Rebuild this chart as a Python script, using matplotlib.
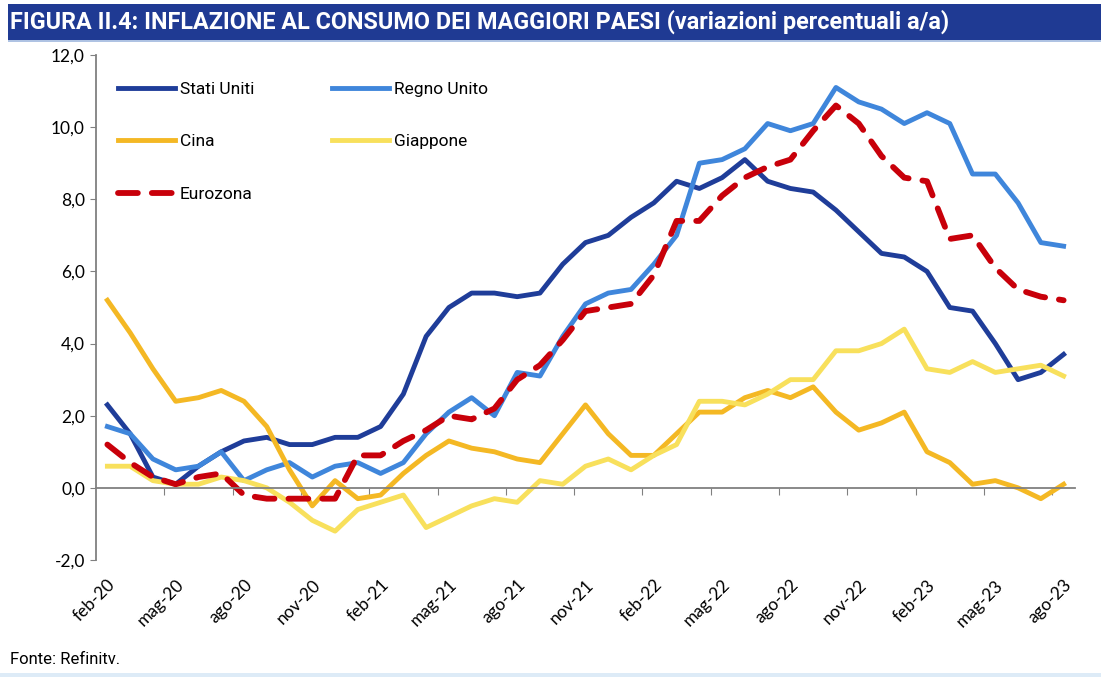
import matplotlib
matplotlib.use("Agg")
import matplotlib.pyplot as plt
from matplotlib.patches import Rectangle
from matplotlib.ticker import FuncFormatter, FixedLocator
import numpy as np

# mesi da feb-20 a ago-23
mesi = ["feb-20", "mar-20", "apr-20", "mag-20", "giu-20", "lug-20", "ago-20", "set-20", "ott-20", "nov-20", "dic-20",
        "gen-21", "feb-21", "mar-21", "apr-21", "mag-21", "giu-21", "lug-21", "ago-21", "set-21", "ott-21", "nov-21", "dic-21",
        "gen-22", "feb-22", "mar-22", "apr-22", "mag-22", "giu-22", "lug-22", "ago-22", "set-22", "ott-22", "nov-22", "dic-22",
        "gen-23", "feb-23", "mar-23", "apr-23", "mag-23", "giu-23", "lug-23", "ago-23"]

stati_uniti = [2.3, 1.5, 0.3, 0.1, 0.6, 1.0, 1.3, 1.4, 1.2, 1.2, 1.4,
               1.4, 1.7, 2.6, 4.2, 5.0, 5.4, 5.4, 5.3, 5.4, 6.2, 6.8, 7.0,
               7.5, 7.9, 8.5, 8.3, 8.6, 9.1, 8.5, 8.3, 8.2, 7.7, 7.1, 6.5,
               6.4, 6.0, 5.0, 4.9, 4.0, 3.0, 3.2, 3.7]
regno_unito = [1.7, 1.5, 0.8, 0.5, 0.6, 1.0, 0.2, 0.5, 0.7, 0.3, 0.6,
               0.7, 0.4, 0.7, 1.5, 2.1, 2.5, 2.0, 3.2, 3.1, 4.2, 5.1, 5.4,
               5.5, 6.2, 7.0, 9.0, 9.1, 9.4, 10.1, 9.9, 10.1, 11.1, 10.7, 10.5,
               10.1, 10.4, 10.1, 8.7, 8.7, 7.9, 6.8, 6.7]
cina = [5.2, 4.3, 3.3, 2.4, 2.5, 2.7, 2.4, 1.7, 0.5, -0.5, 0.2,
        -0.3, -0.2, 0.4, 0.9, 1.3, 1.1, 1.0, 0.8, 0.7, 1.5, 2.3, 1.5,
        0.9, 0.9, 1.5, 2.1, 2.1, 2.5, 2.7, 2.5, 2.8, 2.1, 1.6, 1.8,
        2.1, 1.0, 0.7, 0.1, 0.2, 0.0, -0.3, 0.1]
giappone = [0.6, 0.6, 0.2, 0.1, 0.1, 0.3, 0.2, 0.0, -0.4, -0.9, -1.2,
            -0.6, -0.4, -0.2, -1.1, -0.8, -0.5, -0.3, -0.4, 0.2, 0.1, 0.6, 0.8,
            0.5, 0.9, 1.2, 2.4, 2.4, 2.3, 2.6, 3.0, 3.0, 3.8, 3.8, 4.0,
            4.4, 3.3, 3.2, 3.5, 3.2, 3.3, 3.4, 3.1]
eurozona = [1.2, 0.7, 0.3, 0.1, 0.3, 0.4, -0.2, -0.3, -0.3, -0.3, -0.3,
            0.9, 0.9, 1.3, 1.6, 2.0, 1.9, 2.2, 3.0, 3.4, 4.1, 4.9, 5.0,
            5.1, 5.9, 7.4, 7.4, 8.1, 8.6, 8.9, 9.1, 9.9, 10.6, 10.1, 9.2,
            8.6, 8.5, 6.9, 7.0, 6.1, 5.5, 5.3, 5.2]

y_ticks = [-2, 0, 2, 4, 6, 8, 10, 12]

stretto = ["Liberation Sans Narrow", "DejaVu Sans Condensed", "Roboto", "DejaVu Sans"]

fig = plt.figure(figsize=(11.01, 6.77), dpi=100)
fig.patch.set_facecolor("white")

# barra del titolo
fig.add_artist(Rectangle((8 / 1101, 1 - 40 / 677), 1, 36 / 677, transform=fig.transFigure,
                         facecolor="#1F3A93", edgecolor="none"))
fig.add_artist(Rectangle((8 / 1101, 1 - 42 / 677), 1, 2 / 677, transform=fig.transFigure,
                         facecolor="#AFC3E3", edgecolor="none"))
fig.text(10 / 1101, 1 - 22 / 677, "FIGURA II.4: INFLAZIONE AL CONSUMO DEI MAGGIORI PAESI (variazioni percentuali a/a)",
         color="white", fontsize=16.8, fontweight="bold", va="center", ha="left", family=stretto)

ax = fig.add_axes([96 / 1101, 1 - 560 / 677, (1075 - 96) / 1101, (560 - 55) / 677])

x = np.arange(len(mesi))
l_us, = ax.plot(x, stati_uniti, color="#1F3D99", lw=3.5, label="Stati Uniti", solid_joinstyle="round")
l_uk, = ax.plot(x, regno_unito, color="#3F86DB", lw=3.5, label="Regno Unito", solid_joinstyle="round")
l_cn, = ax.plot(x, cina, color="#F4B824", lw=3.5, label="Cina", solid_joinstyle="round")
l_jp, = ax.plot(x, giappone, color="#F8E05C", lw=3.5, label="Giappone", solid_joinstyle="round")
l_ez, = ax.plot(x, eurozona, color="#C8000A", lw=4.2, label="Eurozona", dashes=(3.4, 2.4),
                dash_capstyle="round", solid_joinstyle="round")

ax.set_xlim(-0.5, len(mesi) - 0.5)
ax.set_ylim(-2, 12)

# assi stile Excel
for s in ["top", "right"]:
    ax.spines[s].set_visible(False)
ax.spines["left"].set_color("#808080")
ax.spines["left"].set_linewidth(1.3)
ax.spines["bottom"].set_position(("data", 0))
ax.spines["bottom"].set_color("#808080")
ax.spines["bottom"].set_linewidth(1.3)

ax.set_yticks(y_ticks)
ax.yaxis.set_major_formatter(FuncFormatter(lambda v, p: f"{v:.1f}".replace(".", ",")))
ax.tick_params(axis="y", direction="out", length=4, color="#808080", labelsize=12.5, pad=4)

lab_pos = x[::3]
ax.xaxis.set_major_locator(FixedLocator(lab_pos[1:] - 0.5))
ax.xaxis.set_minor_locator(FixedLocator(lab_pos))
ax.set_xticklabels([], minor=False)
ax.set_xticklabels([mesi[i] for i in lab_pos], minor=True, rotation=45, ha="right",
                   rotation_mode="anchor")
ax.tick_params(axis="x", which="major", direction="out", length=5, color="#808080")
ax.tick_params(axis="x", which="minor", length=0, labelsize=12.5, pad=64)

for t in ax.get_yticklabels() + ax.get_xticklabels(minor=True):
    t.set_family(["Lato", "DejaVu Sans"])

# ordine per righe come nell'originale
ax.legend([l_us, l_cn, l_ez, l_uk, l_jp], ["Stati Uniti", "Cina", "Eurozona", "Regno Unito", "Giappone"],
          ncol=2, loc="upper left", bbox_to_anchor=(0.022, 0.947), frameon=False,
          handlelength=3.3, handletextpad=0.3, columnspacing=4.45,
          labelspacing=2.15, borderpad=0, borderaxespad=0,
          prop={"family": stretto, "size": 12.5})

fig.text(10 / 1101, 1 - 660 / 677, "Fonte: Refinitv.", fontsize=12, va="center", ha="left", family=stretto)
fig.add_artist(Rectangle((0, 0), 1, 4 / 677, transform=fig.transFigure,
                         facecolor="#DDEBF7", edgecolor="none"))

fig.savefig("out.png", dpi=100)
